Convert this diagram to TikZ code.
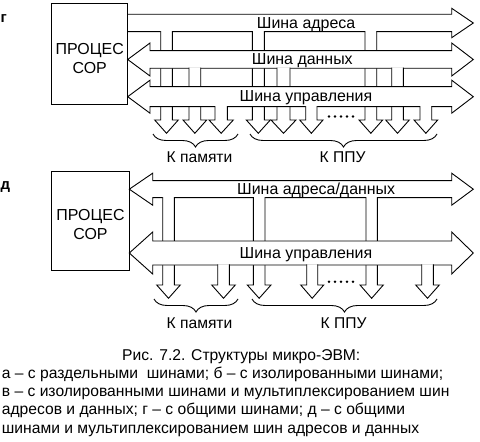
\documentclass[tikz,border=0pt]{standalone}
\usepackage{fontspec}
\setmainfont{Liberation Sans}
\usetikzlibrary{positioning,decorations.pathreplacing}

% bidirectional bus: centre y, half shaft, half head
\newcommand{\twobus}[3]{%
  \path[bus] (\cpuR,#1) -- (\hbL,#1-#3) -- (\hbL,#1-#2) -- (\hbR,#1-#2)
    -- (\hbR,#1-#3) -- (\tipR,#1) -- (\hbR,#1+#3) -- (\hbR,#1+#2)
    -- (\hbL,#1+#2) -- (\hbL,#1+#3) -- cycle;}
% branch from a bus down to an arrow: left x, right x, top y, head base y
\newcommand{\drop}[4]{%
  \path[tap] (#1,#3-0.6) -- (#1,#4) -- (#1-6,#4) -- ({(#1+#2)/2},#4+13.3)
    -- (#2+6,#4) -- (#2,#4) -- (#2,#3-0.6);}

\tikzset{
  bus/.style={draw=black,fill=white,line width=0.9bp},
  tap/.style={draw=black,fill=white,line width=0.9bp},
  cpubox/.style={draw=black,line width=0.9bp,inner sep=0pt},
  cpulbl/.style={align=center,inner sep=0pt,font=\fontsize{16}{19}\selectfont},
  buslbl/.style={anchor=base west,inner sep=0pt,font=\fontsize{16}{18}\selectfont},
  brclbl/.style={anchor=base,inner sep=0pt,font=\fontsize{15.7}{18}\selectfont},
  tag/.style={anchor=base west,inner sep=0pt,font=\fontsize{15}{18}\selectfont\bfseries},
  captxt/.style={anchor=base west,inner sep=0pt,font=\fontsize{15.7}{18}\selectfont},
  brc/.style={decorate,decoration={brace,mirror,amplitude=13bp},line width=0.9bp}
}

\begin{document}
\begin{tikzpicture}[x=1bp,y=-1bp]
  \useasboundingbox (0,0) rectangle (480,442);
  \def\hbR{451.7} \def\tipR{473.3}

  % ===== g: common buses =====
  \node[tag] (tagG) at (0.5,23) {г};
  \def\cpuR{127.7} \def\hbL{150}

  % --- address bus ---
  \path[bus] (\cpuR,14.3) -- (\hbR,14.3) -- (\hbR,8.3) -- (\tipR,23)
    -- (\hbR,37.7) -- (\hbR,31.7) -- (\cpuR,31.7);
  \foreach \xl/\xr in {160.7/172.3, 252.3/264.3, 365/376.7}{
    \drop{\xl}{\xr}{31.7}{120}}

  % --- data bus ---
  \twobus{59.5}{8.8}{16.5}
  \foreach \xl/\xr in {189/200.7, 277/290, 391.7/403.3}{
    \drop{\xl}{\xr}{68.3}{120}}

  % --- control bus ---
  \twobus{96.7}{10}{16.5}
  \foreach \xl/\xr in {215/227.3, 305.7/317, 420/431.7}{
    \drop{\xl}{\xr}{106.7}{120}}

  \node[cpubox,minimum width=76bp,minimum height=100.7bp] (cpuG) at (89.7,53.7) {};
  \node[cpulbl] (cpuGlbl) at (89.7,58.5) {ПРОЦЕС\\СОР};

  \node[buslbl] (adrG) at (256.7,28.3) {Шина адреса};
  \node[buslbl] (datG) at (251.7,65) {Шина данных};
  \node[buslbl] (ctlG) at (239.5,101.5) {Шина управления};

  \foreach \i in {0,...,4}{\fill (329+6*\i,116.5) circle (1.4bp);}

  \draw[brc] (153,134) -- (238,134);
  \draw[brc] (250,134) -- (437,134);
  \node[brclbl] (memG) at (199.5,163) {К памяти};
  \node[brclbl] (ioG) at (342.5,163) {К ППУ};

  % ===== d: multiplexed address/data =====
  \node[tag] (tagD) at (0.5,189.5) {д};
  \def\cpuR{129.3} \def\hbL{152.7}

  % --- address/data bus ---
  \twobus{189.2}{8.5}{16}
  \foreach \xl/\xr in {162.7/174.3, 253.3/265, 366/377.3}{
    \drop{\xl}{\xr}{197.7}{285}}

  % --- control bus ---
  \twobus{253}{12}{21}
  \foreach \xl/\xr in {217.7/229.3, 306.7/317.7, 421.7/433.3}{
    \drop{\xl}{\xr}{265}{285}}

  \node[cpubox,minimum width=77.6bp,minimum height=99bp] (cpuD) at (90.5,220.5) {};
  \node[cpulbl] (cpuDlbl) at (90.5,224.5) {ПРОЦЕС\\СОР};

  \node[buslbl] (adD) at (237,195) {Шина адреса/данных};
  \node[buslbl] (ctlD) at (239.5,258.3) {Шина управления};

  \foreach \i in {0,...,4}{\fill (329+6*\i,281.7) circle (1.4bp);}

  \draw[brc] (154,299) -- (238,299);
  \draw[brc] (252,299) -- (437,299);
  \node[brclbl] (memD) at (199.5,328) {К памяти};
  \node[brclbl] (ioD) at (343.5,328) {К ППУ};

  % --- caption ---
  \node[captxt] (capT) at (122,360) {Рис. 7.2. Структуры микро-ЭВМ:};
  \foreach \ln [count=\i] in {%
    {а – с раздельными~ шинами; б – с изолированными шинами;},
    {в – с изолированными шинами и мультиплексированием шин},
    {адресов и данных; г – с общими шинами; д – с общими},
    {шинами и мультиплексированием шин адресов и данных}}{
      \node[captxt] (cap\i) at (1.7,{360+18.3*\i}) {\ln};
  }
\end{tikzpicture}
\end{document}
